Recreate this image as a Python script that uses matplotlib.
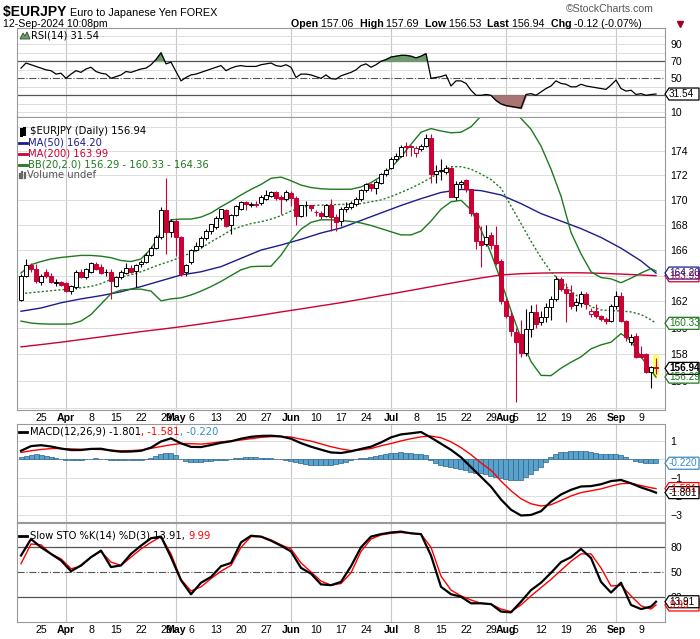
import numpy as np
import pandas as pd
import matplotlib
matplotlib.use("Agg")
import matplotlib.pyplot as plt
from matplotlib.lines import Line2D
from matplotlib.patches import Polygon, Rectangle
from matplotlib.ticker import FixedLocator, NullLocator

plt.rcParams['font.family'] = ['DejaVu Sans']

# ---------------- values ----------------
dates = pd.bdate_range("2024-03-19", "2024-09-12")

opens = [162.15, 164.00, 164.80, 164.50, 163.50, 164.30, 164.00, 163.46, 163.50, 163.40,
         162.80, 163.10, 164.30, 163.90, 164.30, 164.90, 164.70, 164.25, 164.30, 163.20,
         163.90, 164.20, 164.60, 164.35, 164.90, 165.10, 165.60, 166.20, 167.00, 169.20,
         167.40, 168.30, 167.00, 164.25, 165.10, 166.00, 166.30, 166.97, 167.50, 167.80,
         168.57, 169.20, 167.95, 168.78, 169.30, 169.86, 169.62, 169.66, 169.72, 170.10,
         170.35, 170.60, 170.20, 170.05, 170.55, 170.18, 168.70, 169.56, 169.56, 169.05,
         168.97, 168.70, 169.56, 168.60, 168.30, 169.24, 169.45, 169.64, 170.05, 170.80,
         171.27, 170.99, 171.40, 172.08, 172.63, 173.37, 173.59, 174.42, 174.40, 173.86,
         174.14, 174.42, 175.03, 172.08, 172.36, 172.27, 172.63, 170.26, 171.27, 171.59,
         170.86, 168.97, 166.70, 166.50, 167.23, 166.43, 165.12, 162.07, 160.91, 159.70,
         159.50, 158.12, 159.90, 161.22, 160.45, 160.78, 161.55, 162.20, 163.70, 163.00,
         162.67, 161.73, 161.86, 162.60, 161.04, 161.30, 160.86, 160.66, 160.53, 161.68,
         162.42, 160.53, 158.88, 159.39, 158.00, 157.99, 156.70, 157.06]
highs = [164.10, 165.30, 165.00, 164.90, 164.10, 164.50, 164.20, 163.70, 163.60, 163.50,
         163.30, 164.40, 164.50, 164.60, 165.10, 165.10, 164.90, 164.50, 164.50, 164.00,
         164.40, 165.00, 164.80, 164.90, 165.20, 165.80, 166.30, 167.20, 169.40, 171.75,
         168.50, 168.50, 167.10, 164.90, 166.10, 166.60, 167.10, 167.70, 168.10, 168.70,
         169.30, 169.30, 168.90, 169.60, 169.90, 169.90, 169.80, 169.90, 170.40, 170.80,
         170.75, 170.75, 170.40, 170.80, 170.70, 170.30, 169.60, 169.90, 169.60, 169.20,
         169.10, 169.70, 170.10, 168.90, 169.40, 169.80, 169.90, 170.20, 170.90, 171.40,
         171.40, 171.60, 172.20, 172.60, 173.50, 173.80, 174.50, 174.70, 174.50, 174.40,
         174.60, 175.40, 175.40, 172.80, 173.30, 172.80, 172.70, 171.50, 171.60, 171.70,
         170.90, 169.00, 167.90, 168.00, 167.40, 167.90, 165.30, 162.30, 161.30, 160.00,
         160.60, 161.40, 161.70, 161.80, 161.30, 161.90, 162.40, 164.00, 163.90, 163.40,
         163.30, 162.30, 162.80, 162.70, 161.50, 161.80, 161.00, 160.80, 161.80, 162.80,
         162.70, 160.60, 159.50, 159.60, 158.60, 158.10, 157.10, 157.69]
lows = [162.00, 163.90, 164.30, 163.40, 163.30, 163.80, 163.40, 163.20, 163.20, 162.70,
        162.60, 163.00, 163.80, 163.70, 164.20, 164.40, 164.10, 164.00, 162.20, 163.10,
        163.70, 164.10, 164.20, 163.10, 164.70, 165.00, 165.50, 166.10, 166.90, 165.70,
        167.00, 165.50, 164.00, 164.00, 164.90, 165.90, 166.20, 166.80, 167.30, 167.70,
        168.40, 167.80, 167.30, 168.70, 169.20, 169.20, 169.40, 169.40, 169.60, 170.00,
        170.20, 170.00, 168.90, 169.90, 169.50, 167.95, 168.60, 168.70, 169.10, 168.70,
        168.50, 168.60, 167.50, 167.50, 167.90, 169.00, 169.30, 169.50, 169.90, 170.60,
        170.70, 170.50, 171.30, 171.90, 172.50, 173.20, 173.50, 173.60, 173.60, 173.50,
        174.00, 174.30, 171.40, 171.40, 171.60, 172.10, 170.20, 170.00, 171.00, 170.60,
        168.70, 166.10, 164.70, 166.30, 166.10, 164.80, 161.80, 160.70, 159.40, 154.44,
        157.80, 157.90, 159.30, 160.00, 160.20, 160.40, 160.60, 162.00, 162.80, 160.40,
        161.40, 161.30, 161.60, 161.40, 160.80, 160.70, 160.50, 160.30, 160.40, 161.40,
        160.40, 159.00, 158.70, 157.70, 157.70, 156.60, 155.50, 156.53]
closes = [164.00, 164.80, 164.50, 163.60, 164.00, 163.95, 163.50, 163.50, 163.30, 162.80,
          163.20, 164.30, 163.90, 164.50, 165.00, 164.50, 164.20, 164.30, 163.60, 163.90,
          164.30, 164.60, 164.30, 164.80, 165.10, 165.60, 166.20, 167.00, 169.20, 167.40,
          168.30, 167.00, 164.10, 164.80, 166.00, 166.35, 166.97, 167.50, 168.03, 168.57,
          169.24, 167.90, 168.78, 169.50, 169.86, 169.64, 169.66, 169.60, 170.26, 170.37,
          170.60, 170.18, 170.05, 170.67, 170.18, 168.70, 169.56, 169.60, 169.37, 169.00,
          168.70, 169.56, 168.62, 168.20, 169.29, 169.45, 169.72, 170.05, 170.80, 171.27,
          170.99, 171.46, 172.08, 172.44, 173.37, 173.59, 174.36, 174.33, 174.30, 174.20,
          174.42, 175.03, 172.08, 172.36, 172.45, 172.63, 170.26, 171.27, 171.46, 170.86,
          168.97, 166.70, 166.43, 167.05, 166.43, 164.99, 162.01, 160.91, 159.77, 158.90,
          158.12, 159.90, 161.17, 160.27, 160.78, 161.55, 162.20, 163.70, 162.95, 162.67,
          161.68, 161.94, 162.60, 161.81, 161.30, 160.86, 160.66, 160.53, 161.68, 162.42,
          160.53, 159.27, 159.27, 157.82, 157.80, 156.69, 157.06, 156.94]

# moving averages, read every 4th session
ma_idx = list(range(0, 128, 4)) + [127]
ma50 = [161.25, 161.5, 161.9, 162.2, 162.45, 162.75, 163.15, 163.6, 164.05, 164.3, 164.7,
        165.35, 166.0, 166.4, 166.85, 167.35, 167.75, 168.35, 168.95, 169.55, 170.1, 170.6,
        170.85, 170.75, 170.4, 169.7, 168.9, 168.3, 167.7, 167.0, 166.15, 165.15, 164.2]
ma200 = [158.55, 158.72, 158.9, 159.1, 159.3, 159.5, 159.7, 159.88, 160.07, 160.28, 160.5,
         160.72, 160.95, 161.2, 161.43, 161.67, 161.91, 162.17, 162.45, 162.72, 163.0, 163.28,
         163.55, 163.82, 164.05, 164.15, 164.2, 164.22, 164.22, 164.18, 164.12, 164.05, 163.99]

# Bollinger Bands and oscillators, read every 2nd session
osc_idx = list(range(0, 128, 2)) + [127]
bb_upper = [164.2, 164.85, 165.1, 165.3, 165.42, 165.5, 165.58, 165.58, 165.52, 165.4,
            165.18, 165.1, 165.3, 166.1, 167.4, 168.4, 168.46, 168.46, 168.62, 168.95,
            169.45, 169.9, 170.4, 170.85, 171.25, 171.75, 171.85, 171.55, 171.2, 171.0,
            170.9, 170.86, 170.86, 170.86, 171.05, 171.4, 171.9, 172.6, 173.5, 174.55,
            175.55, 175.85, 175.65, 175.5, 175.55, 176.0, 176.9, 177.5, 177.8, 177.5,
            176.7, 175.8, 174.4, 172.5, 170.3, 167.4, 165.7, 164.3, 163.85, 163.75,
            163.45, 163.8, 164.2, 164.55, 164.36]
bb_mid = [162.6, 162.68, 162.75, 162.83, 162.9, 162.98, 163.06, 163.16, 163.38, 163.7,
          163.9, 164.07, 164.3, 164.6, 164.9, 165.15, 165.45, 165.78, 166.15, 166.65,
          167.1, 167.58, 167.87, 168.1, 168.25, 168.45, 168.73, 169.1, 169.4, 169.53,
          169.58, 169.61, 169.64, 169.64, 169.7, 169.85, 170.0, 170.27, 170.6, 170.95,
          171.35, 171.8, 172.3, 172.7, 172.7, 172.5, 172.1, 171.65, 170.95, 169.5,
          168.1, 166.7, 165.4, 164.3, 163.5, 162.8, 162.2, 161.6, 161.35, 161.3,
          161.27, 161.2, 161.0, 160.6, 160.33]
bb_lower = [160.5, 160.35, 160.29, 160.27, 160.27, 160.28, 160.5, 161.0, 161.8, 162.6,
            162.88, 162.95, 162.95, 162.8, 162.05, 162.2, 162.28, 162.5, 162.8, 163.15,
            163.55, 164.0, 164.45, 164.7, 164.73, 164.73, 165.6, 166.75, 167.65, 168.2,
            168.4, 168.4, 168.35, 168.27, 168.15, 167.95, 167.7, 167.45, 167.2, 167.2,
            167.5, 168.3, 169.25, 169.85, 169.97, 169.2, 167.6, 165.75, 163.6, 161.3,
            159.2, 157.45, 156.42, 156.4, 156.95, 157.4, 157.8, 158.4, 158.7, 158.9,
            159.55, 159.0, 157.8, 156.8, 156.29]

rsi = [62, 68, 66, 64, 62, 60, 59, 55, 56, 50,
       55, 59, 57, 61, 63, 58, 56, 55, 50, 52,
       54, 58, 57, 59, 61, 62, 66, 72, 80, 67,
       69, 58, 47, 51, 54, 55, 57, 59, 61, 63,
       65, 59, 62, 64, 65, 64, 64, 64, 66, 67,
       68, 65, 64, 66, 63, 51, 55, 55, 54, 52,
       50, 54, 49.6, 49, 53, 55, 57, 60, 65, 67,
       63, 66, 70, 72, 75, 76, 77, 77, 76, 74,
       76, 79, 50, 51, 52, 54, 41, 47, 47, 44,
       36, 30, 30, 31, 30, 24, 20, 18, 17, 16,
       15, 31, 32, 30, 34, 38, 41, 47, 44, 43,
       40, 40, 43, 41, 40, 39, 38, 37, 42, 48,
       38, 35, 36, 31, 32, 30, 31, 31.54]

macd = [0.45, 0.7, 0.75, 0.68, 0.57, 0.49, 0.49, 0.55, 0.56, 0.46,
        0.4, 0.41, 0.45, 0.62, 0.95, 1.12, 0.85, 0.66, 0.65, 0.76,
        0.88, 0.96, 1.1, 1.2, 1.25, 1.26, 1.22, 1.1, 0.86, 0.67,
        0.51, 0.36, 0.33, 0.42, 0.55, 0.67, 0.9, 1.17, 1.33, 1.39,
        1.46, 1.16, 0.83, 0.5, 0.1, -0.43, -0.95, -1.48, -2.17, -2.72,
        -3.03, -3.0, -2.8, -2.28, -1.9, -1.65, -1.47, -1.45, -1.35, -1.18,
        -1.12, -1.3, -1.52, -1.7, -1.801]
signal = [0.36, 0.45, 0.52, 0.57, 0.57, 0.55, 0.53, 0.53, 0.52, 0.48,
          0.45, 0.46, 0.49, 0.58, 0.68, 0.77, 0.84, 0.83, 0.81, 0.86,
          0.93, 0.98, 1.03, 1.1, 1.17, 1.21, 1.22, 1.19, 1.07, 0.97,
          0.82, 0.67, 0.55, 0.46, 0.5, 0.57, 0.72, 0.84, 0.98, 1.1,
          1.2, 1.24, 1.15, 0.93, 0.62, 0.24, -0.2, -0.6, -1.18, -1.7,
          -2.13, -2.4, -2.52, -2.45, -2.22, -1.98, -1.8, -1.7, -1.6, -1.45,
          -1.32, -1.3, -1.42, -1.54, -1.581]
hist = [0.10, 0.18, 0.24, 0.25, 0.23, 0.18, 0.12, 0.06, 0.01, -0.04,
        -0.06, -0.06, -0.04, -0.01, 0.02, 0.04, 0.03, 0.0, -0.03, -0.05,
        -0.06, -0.05, -0.05, -0.04, -0.03, 0.0, 0.06, 0.18, 0.3, 0.33,
        0.35, 0.2, 0.0, -0.12, -0.17, -0.17, -0.15, -0.12, -0.09, -0.06,
        -0.03, -0.02, 0.0, 0.04, 0.07, 0.09, 0.1, 0.09, 0.08, 0.06,
        0.05, 0.03, 0.0, -0.04, -0.09, -0.15, -0.21, -0.26, -0.3, -0.31,
        -0.31, -0.31, -0.31, -0.28, -0.22, -0.13, -0.05, 0.01, 0.05, 0.08,
        0.11, 0.15, 0.2, 0.27, 0.32, 0.35, 0.36, 0.34, 0.31, 0.28,
        0.26, 0.2, -0.05, -0.2, -0.32, -0.38, -0.43, -0.48, -0.53, -0.6,
        -0.67, -0.72, -0.76, -0.82, -0.88, -0.94, -1.0, -1.06, -1.12, -1.14,
        -1.1, -0.98, -0.8, -0.6, -0.4, -0.15, 0.1, 0.28, 0.36, 0.4,
        0.42, 0.43, 0.43, 0.42, 0.38, 0.33, 0.28, 0.25, 0.25, 0.26,
        0.22, 0.12, 0.02, -0.08, -0.15, -0.19, -0.21, -0.22]
sto_k = [70, 90, 80, 72, 64, 51, 58, 68, 76, 56,
         58, 72, 82, 91, 93, 68, 40, 23, 37, 44,
         57, 61, 86, 94, 93, 88, 82, 75, 55, 48,
         35, 34, 38, 57, 80, 93, 96, 98, 99, 97,
         96, 70, 32, 23, 20, 12, 12, 11, 2, 1,
         14, 28, 37, 49, 62, 68, 78, 67, 38, 25,
         37, 10, 5, 8, 13.91]
sto_d = [60, 84, 83, 72, 66, 54, 57, 68, 75, 62,
         58, 68, 78, 86, 93, 72, 41, 27, 32, 42,
         51, 58, 80, 93, 93, 89, 83, 78, 61, 50,
         39, 34, 36, 49, 75, 90, 95, 97, 98, 97,
         96, 80, 45, 28, 21, 16, 12, 11, 5, 2,
         10, 21, 31, 41, 52, 63, 72, 72, 55, 33,
         34, 21, 9, 5, 9.99]

# ---------------- figure ----------------
W, H = 700, 639
fig = plt.figure(figsize=(W / 100, H / 100), dpi=100)

RED = '#CC0033'
NAVY = '#1C1C8C'
GREEN = '#1E7A1E'
GRID = '#DDDDDD'
MONTH_GRID = '#C8C8C8'
TICK_FONT = 'Liberation Sans'


def fx(px):
    return px / W


def fy(py):
    return 1 - py / H


def panel(top, bottom):
    return fig.add_axes([fx(17), fy(bottom), fx(665) - fx(17), (bottom - top) / H])


ax_rsi = panel(28, 117)
ax_main = panel(117, 410)
ax_macd = panel(424, 522)
ax_sto = panel(523, 622)

x = np.arange(len(dates))
month_starts = [i for i in range(1, len(dates)) if dates[i].month != dates[i - 1].month]
tick_pos, tick_lab, tick_bold = [], [], []
for i, d in enumerate(dates):
    if i in month_starts:
        tick_pos.append(i)
        tick_lab.append(d.strftime('%b'))
        tick_bold.append(True)
    elif d.weekday() == 0:
        tick_pos.append(i)
        tick_lab.append(str(d.day))
        tick_bold.append(False)

for ax in (ax_rsi, ax_main, ax_macd, ax_sto):
    ax.set_xlim(-0.8, 128.8)
    for s in ax.spines.values():
        s.set_color('#999999')
        s.set_linewidth(0.8)
    for m in month_starts:
        ax.axvline(m, color=MONTH_GRID, lw=0.8, zorder=0)
    ax.yaxis.tick_right()
    ax.tick_params(axis='y', length=0, pad=4, labelsize=7.6)
    ax.set_xticks(tick_pos)
    if ax in (ax_main, ax_sto):
        ax.set_xticklabels(tick_lab)
        ax.tick_params(axis='x', length=0, pad=2.5, labelsize=7.6)
        for t, b in zip(ax.get_xticklabels(), tick_bold):
            t.set_family(TICK_FONT)
            if b:
                t.set_fontweight('bold')
    else:
        ax.set_xticklabels([])
        ax.tick_params(axis='x', length=0)

# ---------------- RSI ----------------
rsi_a = np.array(rsi, dtype=float)
ax_rsi.set_ylim(4.5, 109.2)
for g in (10, 20, 40, 60, 80, 90, 100):
    ax_rsi.axhline(g, color=GRID, lw=0.7, zorder=0)
ax_rsi.axhline(70, color='#555555', lw=0.9)
ax_rsi.axhline(30, color='#555555', lw=0.9)
ax_rsi.axhline(50, color='#555555', lw=0.8, ls='-.')
ax_rsi.fill_between(x, rsi_a, 70, where=rsi_a > 70, interpolate=True, color='#6E9A6E', zorder=2)
ax_rsi.fill_between(x, rsi_a, 30, where=rsi_a < 30, interpolate=True, color='#A87474', zorder=2)
ax_rsi.plot(x, rsi_a, color='black', lw=0.9, zorder=3)
ax_rsi.yaxis.set_major_locator(FixedLocator([10, 50, 70, 90]))

# ---------------- price ----------------
o, h, l, c = (np.array(v) for v in (opens, highs, lows, closes))
prev = np.r_[o[0], c[:-1]]
edge = np.where(c >= prev, 'black', RED)
face = np.where(c < o, edge, 'white')

ax_main.set_yscale('log')
ax_main.set_ylim(153.87, 176.82)
ticks = [156, 158, 160, 162, 166, 168, 170, 172, 174]
ax_main.yaxis.set_major_locator(FixedLocator(ticks))
ax_main.yaxis.set_minor_locator(NullLocator())
ax_main.set_yticklabels([str(t) for t in ticks])
ax_main.yaxis.set_minor_formatter(plt.NullFormatter())
for t in range(154, 178, 2):
    ax_main.axhline(t, color=GRID, lw=0.7, zorder=0)

ax_main.add_patch(Rectangle((126.45, l[-1] - 0.25), 1.1, h[-1] - l[-1] + 0.5,
                            facecolor='#FFFF66', edgecolor='none', zorder=1))
ax_main.plot(ma_idx, ma200, color=RED, lw=1.0, zorder=2)
ax_main.plot(ma_idx, ma50, color=NAVY, lw=1.0, zorder=2)
ax_main.plot(osc_idx, bb_upper, color=GREEN, lw=1.0, zorder=2)
ax_main.plot(osc_idx, bb_lower, color=GREEN, lw=1.0, zorder=2)
ax_main.plot(osc_idx, bb_mid, color=GREEN, lw=1.0, ls=(0, (1.5, 1.5)), zorder=2)
ax_main.vlines(x, l, h, colors=edge, lw=0.8, zorder=3)
ax_main.bar(x, np.maximum(np.abs(c - o), 0.03), bottom=np.minimum(o, c), width=0.76,
            color=face, edgecolor=edge, linewidth=0.7, zorder=4)

# ---------------- MACD ----------------
ax_macd.set_ylim(-3.38, 1.89)
for g in (-3, -2, -1, 0, 1):
    ax_macd.axhline(g, color=GRID, lw=0.7, zorder=0)
ax_macd.yaxis.set_major_locator(FixedLocator([-3, -2, -1, 1]))
ax_macd.bar(x, hist, width=1.0, color='#5AA2CC', edgecolor='#2C6690', linewidth=0.5, zorder=2)
ax_macd.plot(osc_idx, signal, color='#FF0000', lw=1.0, zorder=3)
ax_macd.plot(osc_idx, macd, color='black', lw=1.6, zorder=4)

# ---------------- Slow stochastic ----------------
ax_sto.set_ylim(-10.7, 109.5)
ax_sto.axhline(80, color='#555555', lw=0.9)
ax_sto.axhline(20, color='#555555', lw=0.9)
ax_sto.axhline(50, color='#555555', lw=0.8, ls='-.')
ax_sto.yaxis.set_major_locator(FixedLocator([20, 50, 80]))
ax_sto.plot(osc_idx, sto_d, color='#FF0000', lw=1.0, zorder=3)
ax_sto.plot(osc_idx, sto_k, color='black', lw=1.6, zorder=4)

for ax in (ax_rsi, ax_main, ax_macd, ax_sto):
    for t in ax.get_yticklabels():
        t.set_family(TICK_FONT)


# ---------------- value tags on the right ----------------
def tag(ax, val, label, color, weight='normal'):
    py = H - ax.transData.transform((0, val))[1]
    x0, x1, hh = 665, 699, 6
    pts = [(x0, py), (x0 + 4, py - hh), (x1, py - hh), (x1, py + hh), (x0 + 4, py + hh)]
    fig.add_artist(Polygon([(fx(a), fy(b)) for a, b in pts], closed=True, transform=fig.transFigure,
                           facecolor='white', edgecolor=color, lw=0.9, zorder=5))
    fig.text(fx(x0 + 4), fy(py), label, color=color, fontsize=7.2, fontweight=weight,
             family='Liberation Sans', va='center', ha='left', zorder=6)


tag(ax_rsi, rsi[-1], '31.54', 'black')
tag(ax_main, ma200[-1], '163.99', RED)
tag(ax_main, ma50[-1], '164.20', NAVY)
tag(ax_main, bb_mid[-1], '160.33', GREEN)
tag(ax_main, bb_lower[-1], '156.29', GREEN)
tag(ax_main, closes[-1], '156.94', 'black', 'bold')
tag(ax_macd, hist[-1], '-0.220', '#3A8CC0')
tag(ax_macd, signal[-1], '-1.581', '#FF0000')
tag(ax_macd, macd[-1], '-1.801', 'black')
tag(ax_sto, sto_d[-1], '9.99', '#FF0000')
tag(ax_sto, sto_k[-1], '13.91', 'black')

# ---------------- header and legends ----------------
renderer = fig.canvas.get_renderer()


def run_text(px, py, parts, size=7.2, family='DejaVu Sans'):
    for s, color, weight in parts:
        t = fig.text(fx(px), fy(py), s, color=color, fontweight=weight, fontsize=size,
                     family=family, va='center', ha='left')
        px += t.get_window_extent(renderer=renderer).width


run_text(3, 12, [('$EURJPY ', 'black', 'bold')], size=10, family='Liberation Sans')
run_text(70, 12.5, [('Euro to Japanese Yen FOREX', 'black', 'normal')], size=7.8,
         family='Liberation Sans')
run_text(3, 24, [('12-Sep-2024 10:08pm', 'black', 'normal')], size=7.6, family='Liberation Sans')
run_text(291, 24, [('Open ', 'black', 'bold'), ('157.06  ', 'black', 'normal'),
                   ('High ', 'black', 'bold'), ('157.69  ', 'black', 'normal'),
                   ('Low ', 'black', 'bold'), ('156.53  ', 'black', 'normal'),
                   ('Last ', 'black', 'bold'), ('156.94  ', 'black', 'normal'),
                   ('Chg ', 'black', 'bold'), ('-0.12 (-0.07%)', 'black', 'normal')],
         size=7.7, family='Liberation Sans')
fig.add_artist(Line2D([fx(680)], [fy(23.5)], marker='v', color='#A00020', markersize=4.5,
                      transform=fig.transFigure))
fig.text(fx(566), fy(9), '\u00a9StockCharts.com', color='#555555', fontsize=7.6,
         family='Liberation Sans', va='center', ha='left')

# RSI legend
fig.add_artist(Polygon([(fx(20), fy(39)), (fx(23), fy(33)), (fx(25), fy(36)), (fx(27), fy(32)),
                        (fx(30), fy(39))], closed=True, transform=fig.transFigure,
                       facecolor='#6E9A6E', edgecolor='#2E4E2E', lw=0.6))
run_text(31, 35.5, [('RSI(14) 31.54', 'black', 'normal')])

# price legend
for xx, y0, y1 in ((21, 129, 135), (24, 128, 134)):
    fig.add_artist(Line2D([fx(xx), fx(xx)], [fy(y0), fy(y1)], color='black', lw=2.2,
                          transform=fig.transFigure))
run_text(30, 131.5, [('$EURJPY (Daily) 156.94', 'black', 'normal')])
legend_rows = [(142.5, NAVY, 'MA(50) 164.20'), (153.5, RED, 'MA(200) 163.99'),
               (164.5, GREEN, 'BB(20,2.0) 156.29 - 160.33 - 164.36')]
for py, col, s in legend_rows:
    fig.add_artist(Line2D([fx(19), fx(27)], [fy(py), fy(py)], color=col, lw=2.0,
                          transform=fig.transFigure))
    run_text(28, py, [(s, col, 'normal')])
for xx, hgt in ((20, 4), (22.5, 6), (25, 5)):
    fig.add_artist(Line2D([fx(xx), fx(xx)], [fy(178), fy(178 - hgt)], color='#666666', lw=1.6,
                          transform=fig.transFigure))
run_text(27, 174.5, [('Volume undef', '#555555', 'normal')])

# MACD legend
fig.add_artist(Line2D([fx(19), fx(27)], [fy(432), fy(432)], color='black', lw=2.0,
                      transform=fig.transFigure))
run_text(30, 432, [('MACD(12,26,9) -1.801', 'black', 'normal'), (', -1.581', '#FF0000', 'normal'),
                   (', -0.220', '#3A8CC0', 'normal')])

# Stochastic legend
fig.add_artist(Line2D([fx(19), fx(27)], [fy(536), fy(536)], color='black', lw=2.0,
                      transform=fig.transFigure))
run_text(30, 536, [('Slow STO %K(14) %D(3) 13.91, ', 'black', 'normal'), ('9.99', '#FF0000', 'normal')])

fig.savefig('out.png', dpi=100)
